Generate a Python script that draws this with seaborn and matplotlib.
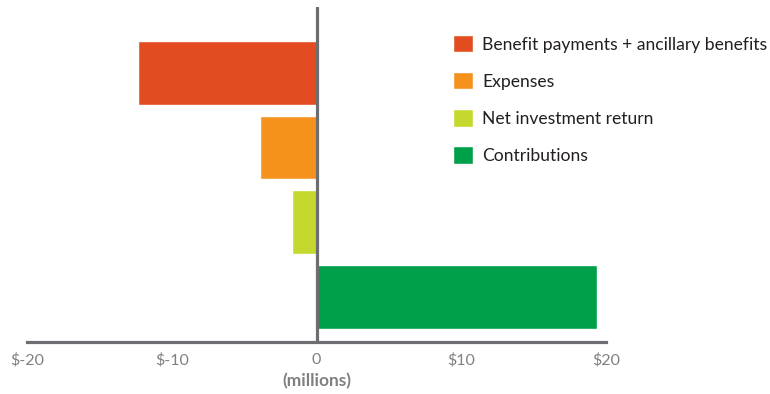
import matplotlib
matplotlib.use("Agg")
import matplotlib.pyplot as plt
import seaborn as sns
import pandas as pd

categories = ["Benefit payments + ancillary benefits", "Expenses",
              "Net investment return", "Contributions"]
values = [-12.35, -3.9, -1.7, 19.4]
colors = ["#E34C21", "#F5921E", "#C5D82E", "#00A04B"]
tick_values = [-20, -10, 0, 10, 20]
tick_labels = ["$-20", "$-10", "0", "$10", "$20"]

sns.set_theme(style="white")
plt.rcParams["font.family"] = ["Lato", "DejaVu Sans"]

df = pd.DataFrame({"category": categories, "value": values})

fig = plt.figure(figsize=(7.7, 3.94), dpi=100)
ax = fig.add_axes([27 / 770, 1 - 342 / 394, 579 / 770, 335 / 394])

sns.barplot(data=df, y="category", x="value", hue="category",
            palette=colors, order=categories, hue_order=categories,
            width=0.853, dodge=False, saturation=1, legend=True, ax=ax)

gray = "#6d6e71"
ax.axvline(0, color=gray, lw=2.3, zorder=5)
ax.set_xlim(-20, 20)
ax.set_ylim(3.605, -0.882)

for s in ["top", "right", "left"]:
    ax.spines[s].set_visible(False)
ax.spines["bottom"].set_color(gray)
ax.spines["bottom"].set_linewidth(2.3)

ax.set_yticks([])
ax.set_ylabel("")
ax.set_xticks(tick_values)
ax.set_xticklabels(tick_labels)
ax.tick_params(axis="x", length=0, pad=8, labelsize=11.5, labelcolor="#808080")
ax.set_xlabel("(millions)", fontsize=12.5, color="#808080",
              fontweight="bold", labelpad=4)

handles, labels = ax.get_legend_handles_labels()
fs = 12.65
fs_px = fs * 100 / 72
ax.legend(handles, labels, loc="upper left",
          bbox_to_anchor=(453 / 770, 1 - 35 / 394),
          bbox_transform=fig.transFigure, frameon=False, fontsize=fs,
          borderpad=0, borderaxespad=0,
          handlelength=20 / fs_px, handleheight=20 / fs_px,
          handletextpad=9 / fs_px, labelspacing=19.5 / fs_px,
          labelcolor="#231f20")

fig.savefig("out.png", dpi=100)
